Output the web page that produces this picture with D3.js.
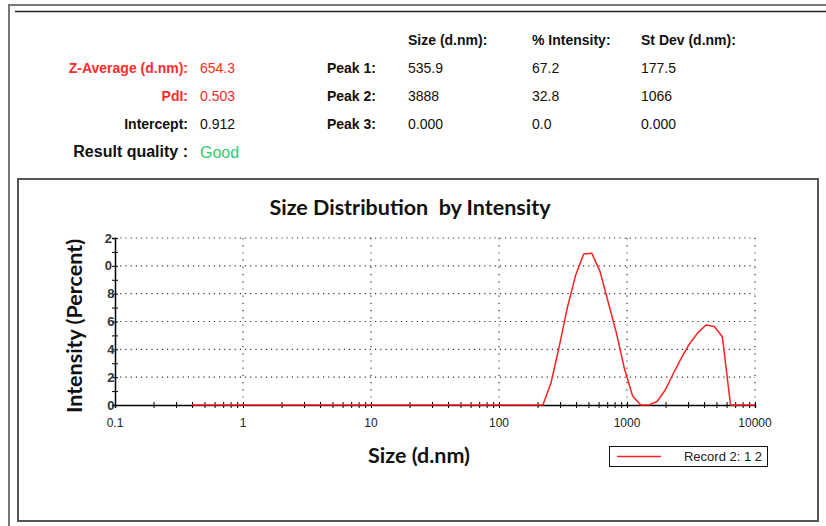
<!DOCTYPE html>
<html>
<head>
<meta charset="utf-8">
<script src="https://cdn.jsdelivr.net/npm/d3@7/dist/d3.min.js"></script>
<style>
  html, body { margin: 0; padding: 0; background: #fff; }
  svg { display: block; }
</style>
</head>
<body>
<svg id="report" width="826" height="526"></svg>
<script>
// Size bins (d.nm) and intensity (%) of the measured distribution
const sizeBins = [0.4, 190.1, 220.2, 255.0, 295.3, 342.0, 396.1, 458.7, 531.2, 615.1, 712.4, 825.0, 955.4,
                  1106, 1281, 1484, 1718, 1990, 2305, 2669, 3091, 3580, 4145, 4801, 5560, 6439, 7456, 8635, 10000];
const intensity = [0, 0, 0, 1.6, 4.2, 7.0, 9.3, 10.85, 10.9, 9.6, 7.4, 5.2, 2.6,
                   0.65, 0, 0, 0.25, 1.08, 2.28, 3.41, 4.42, 5.2, 5.75, 5.64, 4.9, 0, 0, 0, 0];

// Axis ticks
const xTickValues = [0.1, 1, 10, 100, 1000, 10000];
const xTickLabels = ["0.1", "1", "10", "100", "1000", "10000"];
const yTickValues = [0, 2, 4, 6, 8, 10, 12];
const yTickLabels = ["0", "2", "4", "6", "8", "10", "12"];

// Summary results
const summaryLabels = ["Z-Average (d.nm):", "PdI:", "Intercept:"];
const summaryValues = ["654.3", "0.503", "0.912"];
const summaryColors = ["#ff2a2a", "#ff2a2a", "#111"];
const qualityText = "Good";

// Peak table
const peakNames = ["Peak 1:", "Peak 2:", "Peak 3:"];
const peakColumns = ["Size (d.nm):", "% Intensity:", "St Dev (d.nm):"];
const peakSize = ["535.9", "3888", "0.000"];
const peakIntensity = ["67.2", "32.8", "0.0"];
const peakStDev = ["177.5", "1066", "0.000"];

const legendLabel = "Record 2: 1 2";

const svg = d3.select("#report");
const sans = "'Liberation Sans', Arial, sans-serif";
const heading = "Lato, 'Open Sans', sans-serif";

// ---- report frame ----
svg.append("line").attr("x1", 9).attr("x2", 826).attr("y1", 5).attr("y2", 5)
  .attr("stroke", "#777").attr("stroke-width", 2);
svg.append("line").attr("x1", 9).attr("x2", 9).attr("y1", 4).attr("y2", 526)
  .attr("stroke", "#777").attr("stroke-width", 2);
svg.append("line").attr("x1", 15).attr("x2", 826).attr("y1", 11.5).attr("y2", 11.5)
  .attr("stroke", "#222").attr("stroke-width", 1.5);
svg.append("rect").attr("x", 18).attr("y", 179).attr("width", 800).attr("height", 342)
  .attr("fill", "none").attr("stroke", "#555").attr("stroke-width", 2);

// ---- summary block ----
const rowY = [73, 101, 129];
const summary = svg.append("g").attr("font-family", sans).attr("font-size", 14);
summaryLabels.forEach((lab, i) => {
  summary.append("text").attr("x", 188).attr("y", rowY[i]).attr("text-anchor", "end")
    .attr("font-weight", "bold").attr("fill", summaryColors[i]).text(lab);
  summary.append("text").attr("x", 200).attr("y", rowY[i])
    .attr("fill", summaryColors[i]).text(summaryValues[i]);
});
summary.append("text").attr("x", 188).attr("y", 157).attr("text-anchor", "end")
  .attr("font-weight", "bold").attr("font-size", 16).attr("fill", "#111").text("Result quality :");
summary.append("text").attr("x", 200).attr("y", 158)
  .attr("font-size", 16).attr("fill", "#2ecc71").text(qualityText);

// ---- peak table ----
const colX = [408, 532, 641];
const peaks = svg.append("g").attr("font-family", sans).attr("font-size", 14).attr("fill", "#111");
peakColumns.forEach((c, j) => {
  peaks.append("text").attr("x", colX[j]).attr("y", 45).attr("font-weight", "bold").text(c);
});
peakNames.forEach((p, i) => {
  peaks.append("text").attr("x", 376).attr("y", rowY[i]).attr("text-anchor", "end")
    .attr("font-weight", "bold").text(p);
  [peakSize, peakIntensity, peakStDev].forEach((col, j) => {
    peaks.append("text").attr("x", colX[j]).attr("y", rowY[i] - 0.5).text(col[i]);
  });
});

// ---- chart ----
const x = d3.scaleLog().domain([0.1, 10000]).range([115, 755]);
const y = d3.scaleLinear().domain([0, 12]).range([405, 238]);

svg.append("text").attr("x", 410).attr("y", 215).attr("text-anchor", "middle")
  .attr("font-family", heading).attr("font-weight", "bold").attr("font-size", 21.5)
  .attr("fill", "#111").attr("xml:space", "preserve").text("Size Distribution  by Intensity");

// dotted grid
const grid = svg.append("g").attr("stroke", "#333").attr("stroke-width", 1.2).attr("fill", "none");
grid.selectAll("line.h").data(yTickValues.filter(v => v > 0)).join("line")
  .attr("class", "h").attr("x1", x(0.1)).attr("x2", x(10000))
  .attr("y1", d => y(d)).attr("y2", d => y(d)).attr("stroke-dasharray", "1.2,4");
grid.selectAll("line.v").data(xTickValues.filter(v => v > 0.1)).join("line")
  .attr("class", "v").attr("x1", d => x(d)).attr("x2", d => x(d))
  .attr("y1", y(12)).attr("y2", y(0)).attr("stroke-dasharray", "1.2,6");

// x axis: ticks crossing the line
const xMinor = [];
for (let e = -1; e < 4; e++) for (let k = 1; k <= 9; k++) xMinor.push(k * Math.pow(10, e));
xMinor.push(10000);
const xAx = svg.append("g").attr("transform", `translate(0,${y(0)})`);
xAx.call(d3.axisBottom(x).tickValues(xMinor).tickSize(3).tickFormat(""));
xAx.call(g => g.select(".domain").attr("stroke", "#000").attr("stroke-width", 1.5));
const xAxTop = svg.append("g").attr("transform", `translate(0,${y(0)})`);
xAxTop.call(d3.axisTop(x).tickValues(xMinor).tickSize(3).tickFormat(""));
xAxTop.select(".domain").remove();
svg.selectAll(".tick line").attr("stroke", "#000");

const xLab = svg.append("g").attr("font-family", sans).attr("font-size", 12).attr("fill", "#222");
xLab.selectAll("text").data(xTickValues).join("text")
  .attr("x", d => x(d)).attr("y", 427).attr("text-anchor", "middle")
  .text((d, i) => xTickLabels[i]);

// y axis
const yMinor = d3.range(0, 13);
const yAx = svg.append("g").attr("transform", `translate(${x(0.1)},0)`);
yAx.call(d3.axisLeft(y).tickValues(yMinor).tickSize(3).tickFormat(""));
yAx.select(".domain").attr("stroke", "#000").attr("stroke-width", 1.5);
const yAxR = svg.append("g").attr("transform", `translate(${x(0.1)},0)`);
yAxR.call(d3.axisRight(y).tickValues(yMinor).tickSize(3).tickFormat(""));
yAxR.select(".domain").remove();
svg.selectAll(".tick line").attr("stroke", "#000");

// tick labels are cut by the plot's left margin
const defs = svg.append("defs");
defs.append("clipPath").attr("id", "ylabClip")
  .append("rect").attr("x", 104.5).attr("y", 220).attr("width", 20).attr("height", 200);
const yLab = svg.append("g").attr("clip-path", "url(#ylabClip)")
  .attr("font-family", sans).attr("font-size", 13).attr("font-weight", "bold").attr("fill", "#333");
yLab.selectAll("text").data(yTickValues).join("text")
  .attr("x", d => d >= 10 ? 112 : 114.5).attr("y", d => y(d) + 4.5).attr("text-anchor", "end")
  .text((d, i) => yTickLabels[i]);

// axis titles
svg.append("text").attr("x", 419).attr("y", 463).attr("text-anchor", "middle")
  .attr("font-family", heading).attr("font-weight", "bold").attr("font-size", 21.5)
  .attr("fill", "#111").text("Size (d.nm)");
svg.append("text").attr("transform", "translate(82,326) rotate(-90)").attr("text-anchor", "middle")
  .attr("font-family", heading).attr("font-weight", "bold").attr("font-size", 21.5)
  .attr("fill", "#111").text("Intensity (Percent)");

// distribution curve
const line = d3.line().x((d, i) => x(sizeBins[i])).y(d => y(d));
svg.append("path").datum(intensity).attr("d", line)
  .attr("fill", "none").attr("stroke", "#ff2020").attr("stroke-width", 1.5)
  .attr("stroke-linejoin", "round");

// legend
const leg = svg.append("g");
leg.append("rect").attr("x", 609.5).attr("y", 446.5).attr("width", 158).attr("height", 20)
  .attr("fill", "#fff").attr("stroke", "#111").attr("stroke-width", 1);
leg.append("line").attr("x1", 617).attr("x2", 661).attr("y1", 456.5).attr("y2", 456.5)
  .attr("stroke", "#ff2020").attr("stroke-width", 1.5);
leg.append("text").attr("x", 762).attr("y", 461).attr("text-anchor", "end")
  .attr("font-family", sans).attr("font-size", 13).attr("fill", "#222").text(legendLabel);
</script>
</body>
</html>
